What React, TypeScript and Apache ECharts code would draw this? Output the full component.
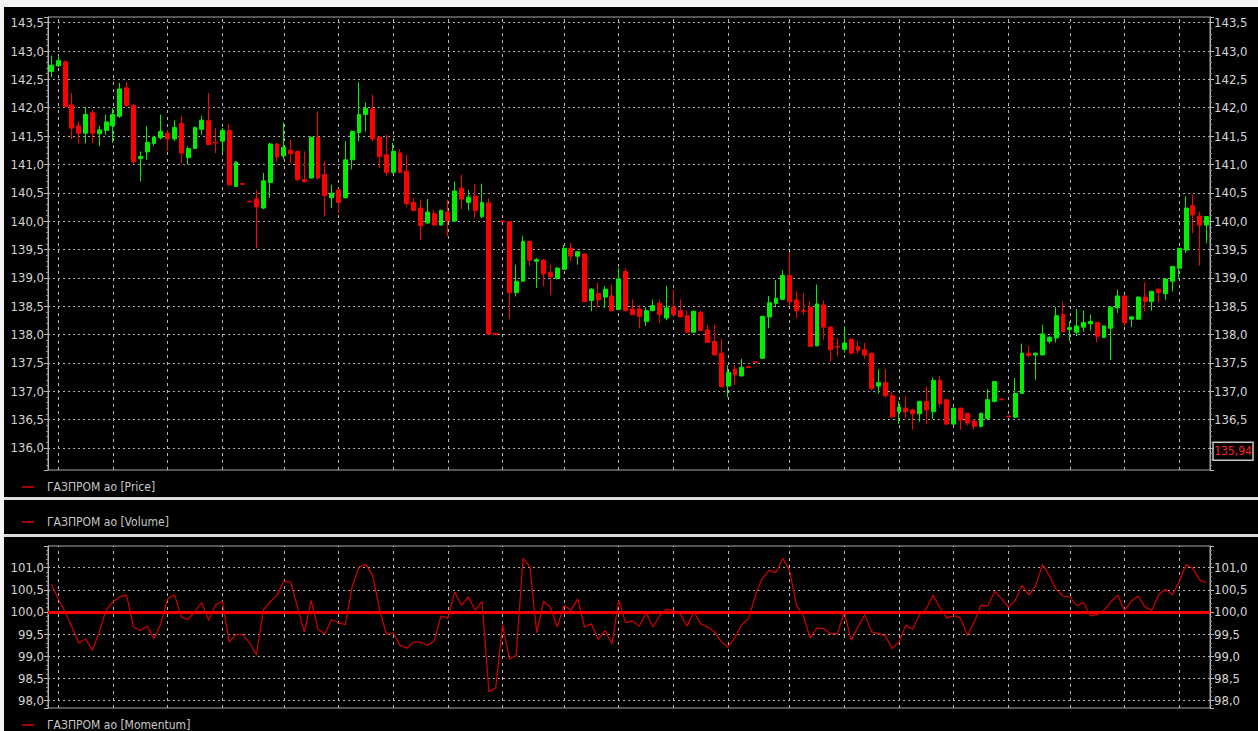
import React, { useEffect, useRef } from "react";
import * as echarts from "echarts";

// ---- data (one candle per slot) ----
const opens = [
  142.64, 142.74, 142.81, 142.05, 141.68, 141.55, 141.91, 141.54, 141.60, 141.68,
  141.85, 142.35, 142.04, 141.10, 141.22, 141.37, 141.47, 141.55, 141.45, 141.72,
  141.12, 141.28, 141.62, 141.77, 141.39, 141.41, 141.60, 140.61, 140.66, 140.35,
  140.39, 140.23, 140.68, 141.36, 141.15, 141.25, 141.23, 140.73, 140.76, 141.48,
  140.82, 140.41, 140.55, 140.41, 141.08, 141.56, 141.88, 141.98, 141.48, 141.17,
  140.86, 141.20, 140.88, 140.33, 140.23, 139.97, 140.13, 139.93, 140.16, 140.00,
  140.58, 140.33, 140.44, 140.08, 140.32, 138.02, 140.00, 139.99, 138.74, 138.94,
  139.64, 139.29, 139.31, 139.09, 138.99, 139.15, 139.52, 139.38, 139.42, 138.60,
  138.72, 138.66, 138.68, 138.44, 139.11, 138.45, 138.45, 138.23, 138.42, 138.55,
  138.29, 138.48, 138.42, 138.33, 138.04, 138.39, 138.08, 137.88, 137.67, 137.09,
  137.39, 137.27, 137.43, 137.52, 137.58, 138.31, 138.55, 138.62, 139.04, 138.61,
  138.42, 138.48, 137.80, 138.52, 138.13, 137.79, 137.74, 137.91, 137.79, 137.73,
  137.67, 137.09, 137.15, 136.92, 136.64, 136.70, 136.67, 136.60, 136.82, 136.64,
  137.19, 136.85, 136.42, 136.70, 136.61, 136.47, 136.38, 136.52, 136.82, 136.86,
  136.56, 136.54, 136.96, 137.67, 137.64, 137.64, 137.88, 137.94, 138.35, 138.09,
  138.04, 138.13, 138.19, 138.21, 137.95, 138.11, 138.47, 138.68, 138.27, 138.27,
  138.66, 138.58, 138.80, 138.72, 138.94, 139.17, 139.49, 140.27, 140.09, 139.93,
];
const closes = [
  142.75, 142.83, 142.02, 141.64, 141.55, 141.88, 141.55, 141.61, 141.75, 141.88,
  142.33, 142.04, 141.05, 141.14, 141.39, 141.48, 141.58, 141.45, 141.65, 141.20,
  141.28, 141.65, 141.78, 141.35, 141.38, 141.60, 140.64, 141.04, 140.65, 140.34,
  140.25, 140.71, 141.36, 141.13, 141.30, 141.19, 140.73, 140.70, 141.48, 140.76,
  140.45, 140.49, 140.33, 141.08, 141.58, 141.88, 141.99, 141.45, 141.14, 140.86,
  141.23, 140.86, 140.31, 140.19, 139.92, 140.16, 139.93, 140.19, 140.01, 140.53,
  140.39, 140.42, 140.19, 140.33, 138.01, 138.00, 139.99, 138.74, 138.94, 139.64,
  139.31, 139.32, 139.07, 139.02, 139.17, 139.52, 139.38, 139.46, 138.58, 138.80,
  138.61, 138.80, 138.42, 138.98, 138.42, 138.35, 138.32, 138.42, 138.51, 138.35,
  138.47, 138.35, 138.31, 138.04, 138.41, 138.07, 137.86, 137.64, 137.08, 137.33,
  137.29, 137.42, 137.42, 137.51, 138.32, 138.56, 138.64, 139.04, 138.58, 138.42,
  138.41, 137.79, 138.54, 138.13, 137.73, 137.78, 137.85, 137.67, 137.72, 137.64,
  137.05, 137.15, 136.92, 136.55, 136.72, 136.64, 136.60, 136.82, 136.67, 137.19,
  136.78, 136.42, 136.70, 136.49, 136.44, 136.38, 136.61, 136.85, 137.17, 136.85,
  136.55, 136.96, 137.67, 137.63, 137.67, 138.01, 137.95, 138.33, 138.05, 138.12,
  138.15, 138.21, 138.23, 137.97, 138.15, 138.48, 138.68, 138.21, 138.31, 138.66,
  138.58, 138.76, 138.74, 138.98, 139.20, 139.52, 140.23, 140.11, 139.93, 140.08,
];
const lows = [
  142.54, 142.72, 142.00, 141.45, 141.37, 141.37, 141.37, 141.32, 141.52, 141.38,
  141.82, 142.02, 141.01, 140.70, 141.08, 141.33, 141.44, 141.23, 141.41, 141.02,
  141.00, 141.27, 141.52, 141.34, 141.20, 141.21, 140.62, 140.60, 140.64, 140.33,
  139.52, 140.21, 140.41, 141.05, 141.09, 141.02, 140.70, 140.68, 140.75, 140.73,
  140.08, 140.23, 140.14, 140.40, 140.91, 141.41, 141.58, 141.41, 140.94, 140.79,
  140.84, 140.84, 140.26, 140.17, 139.66, 139.95, 139.92, 139.92, 139.73, 139.99,
  140.21, 140.19, 140.05, 140.05, 138.00, 137.99, 139.98, 138.27, 138.67, 138.93,
  139.21, 138.82, 138.85, 138.70, 138.97, 139.14, 139.29, 139.23, 138.57, 138.41,
  138.48, 138.47, 138.41, 138.43, 138.41, 138.34, 138.11, 138.15, 138.41, 138.20,
  138.25, 138.34, 138.30, 138.03, 138.03, 138.06, 137.85, 137.63, 137.07, 136.89,
  137.11, 137.26, 137.41, 137.50, 137.57, 138.11, 138.48, 138.61, 138.51, 138.29,
  138.35, 137.78, 137.79, 137.91, 137.52, 137.61, 137.68, 137.65, 137.67, 137.57,
  137.02, 136.96, 136.89, 136.53, 136.42, 136.52, 136.32, 136.46, 136.42, 136.51,
  136.72, 136.41, 136.40, 136.32, 136.40, 136.32, 136.36, 136.49, 136.80, 136.84,
  136.54, 136.53, 136.95, 137.60, 137.20, 137.63, 137.84, 137.86, 138.04, 137.88,
  137.97, 138.05, 138.07, 137.86, 137.94, 137.55, 138.38, 138.15, 138.13, 138.26,
  138.41, 138.42, 138.56, 138.61, 138.76, 139.00, 139.44, 139.79, 139.21, 139.61,
];
const highs = [
  142.92, 142.92, 142.83, 142.26, 141.76, 142.01, 141.96, 141.68, 141.88, 141.99,
  142.44, 142.45, 142.07, 141.23, 141.67, 141.50, 141.88, 141.61, 141.78, 141.86,
  141.32, 141.67, 141.86, 142.26, 141.64, 141.64, 141.72, 141.06, 140.67, 140.36,
  140.55, 140.85, 141.38, 141.38, 141.74, 141.44, 141.24, 141.23, 141.49, 141.93,
  141.05, 140.64, 140.57, 141.41, 141.60, 142.45, 142.09, 142.23, 141.50, 141.52,
  141.38, 141.27, 141.17, 140.41, 140.38, 140.39, 140.20, 140.20, 140.38, 140.70,
  140.82, 140.55, 140.66, 140.66, 140.40, 138.02, 140.01, 140.00, 139.23, 139.74,
  139.66, 139.35, 139.33, 139.23, 139.19, 139.58, 139.62, 139.47, 139.43, 138.82,
  138.92, 138.85, 138.88, 139.17, 139.17, 138.62, 138.52, 138.48, 138.62, 138.61,
  138.86, 138.79, 138.62, 138.42, 138.42, 138.42, 138.17, 138.17, 137.92, 137.46,
  137.46, 137.57, 137.43, 137.52, 138.33, 138.68, 138.96, 139.13, 139.45, 138.76,
  138.73, 138.58, 138.88, 138.60, 138.15, 137.94, 138.15, 137.94, 137.88, 137.85,
  137.68, 137.39, 137.39, 136.99, 136.82, 136.91, 136.69, 136.83, 137.08, 137.24,
  137.27, 136.86, 136.71, 136.71, 136.62, 136.51, 136.62, 137.04, 137.18, 136.87,
  136.57, 137.23, 137.84, 137.80, 137.68, 138.17, 137.97, 138.48, 138.58, 138.23,
  138.45, 138.42, 138.35, 138.22, 138.16, 138.49, 138.79, 138.70, 138.32, 138.67,
  138.92, 138.77, 138.81, 138.99, 139.21, 139.53, 140.44, 140.47, 140.17, 140.09,
];
const momentum = [
  100.62, 100.30, 100.00, 99.66, 99.30, 99.39, 99.13, 99.55, 100.04, 100.23,
  100.34, 100.38, 99.66, 99.58, 99.68, 99.39, 99.73, 100.30, 100.39, 99.89,
  99.83, 100.01, 100.21, 99.81, 100.15, 100.24, 99.32, 99.49, 99.49, 99.30,
  99.03, 100.04, 100.23, 100.38, 100.69, 100.68, 100.11, 99.55, 100.26, 99.61,
  99.51, 99.83, 99.76, 99.71, 100.57, 101.02, 101.07, 100.82, 100.07, 99.49,
  99.53, 99.25, 99.18, 99.32, 99.32, 99.24, 99.35, 99.91, 99.86, 100.45,
  100.15, 100.34, 100.04, 100.24, 98.20, 98.28, 99.71, 98.94, 99.02, 101.21,
  101.02, 99.53, 100.24, 100.11, 99.66, 100.15, 100.04, 100.29, 99.66, 99.73,
  99.38, 99.58, 99.28, 100.26, 99.76, 99.80, 99.68, 99.98, 99.66, 99.92,
  100.06, 100.04, 99.95, 99.68, 100.00, 99.73, 99.66, 99.55, 99.33, 99.21,
  99.43, 99.71, 99.85, 100.38, 100.76, 100.94, 100.89, 101.21, 100.94, 100.15,
  99.92, 99.41, 99.64, 99.62, 99.51, 99.51, 100.01, 99.36, 99.66, 99.94,
  99.55, 99.51, 99.46, 99.17, 99.32, 99.70, 99.61, 99.94, 100.07, 100.38,
  100.09, 99.86, 99.92, 99.86, 99.47, 99.77, 100.15, 100.14, 100.47, 100.30,
  100.11, 100.26, 100.60, 100.38, 100.60, 101.07, 100.82, 100.51, 100.36, 100.34,
  100.14, 100.21, 99.91, 99.94, 100.04, 100.23, 100.38, 100.04, 100.24, 100.36,
  100.11, 100.04, 100.39, 100.51, 100.39, 100.69, 101.07, 100.98, 100.72, 100.66,
];
// candle slots where a new session starts (vertical dashed grid lines)
const sessionStarts = [1, 9, 17, 25, 34, 42, 50, 58, 66, 75, 83, 91, 99, 108, 116, 124, 132, 140, 149, 157, 165];
const categories = opens.map((_, i) => String(i + 1));
const lastPrice = 135.94;
const momentumBase = 100;
const priceRange = [135.61, 143.6];
const momentumRange = [97.83, 101.49];
// right price axis label hidden behind the last-price box
const rightHiddenLabels = [136];
const legendLabels = ["ГАЗПРОМ ао [Price]", "ГАЗПРОМ ао [Volume]", "ГАЗПРОМ ао [Momentum]"];

const FONT = "'Liberation Sans Narrow', 'Arial Narrow', 'DejaVu Sans Condensed', sans-serif";
const fmt = (v: number) => v.toFixed(1).replace(".", ",");

function yAxisOf(
  gridIndex: number,
  position: "left" | "right",
  range: number[],
  splitNumber: number,
  showSplit: boolean,
  hidden: number[] = []
) {
  return {
    type: "value",
    gridIndex,
    position,
    min: range[0],
    max: range[1],
    splitNumber,
    axisLine: { show: true, lineStyle: { color: "#b4b4b4", width: 1 } },
    axisTick: { show: true, length: 4, lineStyle: { color: "#b4b4b4" } },
    minorTick: { show: true, splitNumber: 5, length: 2, lineStyle: { color: "#8c8c8c" } },
    axisLabel: {
      color: "#d4d4d4",
      fontSize: 13,
      fontFamily: FONT,
      margin: 4,
      formatter: (v: number) => (hidden.some((h) => Math.abs(h - v) < 1e-6) ? "" : fmt(v)),
      showMinLabel: false,
      showMaxLabel: false,
    },
    splitLine: {
      show: showSplit,
      showMinLine: false,
      showMaxLine: false,
      lineStyle: { color: "#b0b0b0", type: [2, 3], width: 1 },
    },
    minorSplitLine: { show: false },
  };
}

function xAxisOf(gridIndex: number) {
  return {
    type: "category",
    gridIndex,
    data: categories,
    boundaryGap: true,
    axisLine: { show: false },
    axisTick: { show: false },
    axisLabel: { show: false },
    splitLine: { show: false },
  };
}

function fmt2(v: number) {
  return v.toFixed(2).replace(".", ",");
}

export default function App() {
  const ref = useRef<HTMLDivElement>(null);
  useEffect(() => {
    document.body.style.margin = "0";
    document.body.style.background = "#000";
    const chart = echarts.init(ref.current!, null, { renderer: "svg" });
    const candleData = opens.map((o, i) => [o, closes[i], lows[i], highs[i]]);
    const vLines = sessionStarts.map((i) => ({ xAxis: categories[i] }));
    const gridBase = { left: 48, width: 1162, show: true, backgroundColor: "#000", borderColor: "#a8a8a8", borderWidth: 1 };
    const vLineStyle = { color: "#b8b8b8", type: [3, 4], width: 1 };

    chart.setOption({
      animation: false,
      backgroundColor: "#000",
      grid: [
        { ...gridBase, top: 17, height: 453 },
        { ...gridBase, top: 546, height: 162 },
      ],
      xAxis: [xAxisOf(0), xAxisOf(1)],
      yAxis: [
        yAxisOf(0, "left", priceRange, 16, true),
        yAxisOf(0, "right", priceRange, 16, false, rightHiddenLabels),
        yAxisOf(1, "left", momentumRange, 7, true),
        yAxisOf(1, "right", momentumRange, 7, false),
      ],
      series: [
        {
          type: "candlestick",
          xAxisIndex: 0,
          yAxisIndex: 0,
          data: candleData,
          barWidth: "64%",
          itemStyle: {
            color: "#00ee00",
            color0: "#ff0000",
            borderColor: "#00ee00",
            borderColor0: "#ff0000",
            borderWidth: 1,
          },
          markLine: {
            silent: true,
            z: 1,
            symbol: ["none", "none"],
            label: { show: false },
            lineStyle: vLineStyle,
            data: vLines,
          },
        },
        {
          type: "line",
          xAxisIndex: 1,
          yAxisIndex: 2,
          data: momentum,
          showSymbol: false,
          symbol: "none",
          lineStyle: { color: "#d40000", width: 1.2 },
          markLine: {
            silent: true,
            z: 1,
            symbol: ["none", "none"],
            label: { show: false },
            lineStyle: vLineStyle,
            data: [
              ...vLines,
              { yAxis: momentumBase, lineStyle: { color: "#ff0000", type: "solid", width: 3 } },
            ],
          },
        },
      ],
    });

    const yLast = chart.convertToPixel({ yAxisIndex: 0 } as any, lastPrice) as number;
    const legendY = [487, 522, 725];
    chart.setOption({
      graphic: {
        elements: [
          { type: "rect", shape: { x: 0, y: 0, width: 1258, height: 7 }, style: { fill: "#f4f4f4" }, silent: true },
          { type: "rect", shape: { x: 0, y: 0, width: 4, height: 731 }, style: { fill: "#f4f4f4" }, silent: true },
          { type: "rect", shape: { x: 4, y: 497, width: 1254, height: 3 }, style: { fill: "#dcdcdc" }, silent: true },
          { type: "rect", shape: { x: 4, y: 534, width: 1254, height: 3 }, style: { fill: "#dcdcdc" }, silent: true },
          ...legendY.flatMap((y, k) => [
            { type: "line", shape: { x1: 22, y1: y, x2: 34, y2: y }, style: { stroke: "#e00000", lineWidth: 1.5 }, silent: true },
            {
              type: "text",
              x: 47,
              y,
              style: { text: legendLabels[k], fill: "#c8c8c8", font: `12px ${FONT}`, verticalAlign: "middle" },
              silent: true,
            },
          ]),
          {
            type: "rect",
            shape: { x: 1213, y: yLast - 9, width: 40, height: 18 },
            style: { fill: "#000", stroke: "#c8c8c8", lineWidth: 1.5 },
            silent: true,
          },
          {
            type: "text",
            x: 1233,
            y: yLast,
            style: {
              text: fmt2(lastPrice),
              fill: "#ff2020",
              font: `12px ${FONT}`,
              align: "center",
              verticalAlign: "middle",
            },
            silent: true,
          },
        ],
      },
    });
    return () => chart.dispose();
  }, []);
  return (
    <div
      ref={ref}
      style={{ position: "absolute", left: 0, top: 0, width: 1258, height: 731, background: "#000" }}
    />
  );
}
